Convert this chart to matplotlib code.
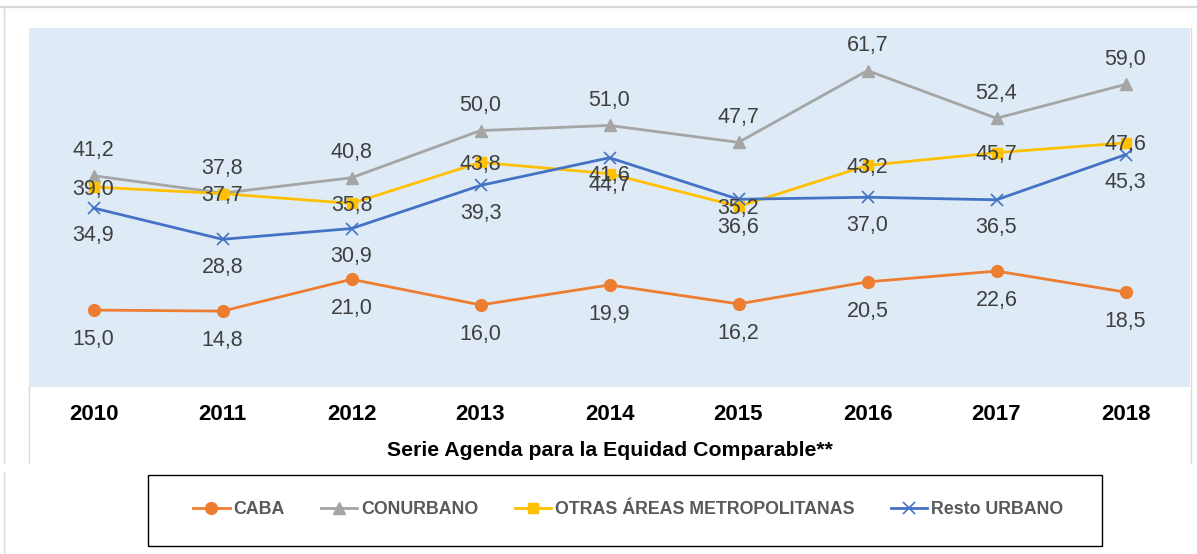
import matplotlib
matplotlib.use("Agg")
import matplotlib.pyplot as plt
from matplotlib.lines import Line2D
from matplotlib.patches import Rectangle

years = ["2010", "2011", "2012", "2013", "2014", "2015", "2016", "2017", "2018"]
caba = [15.0, 14.8, 21.0, 16.0, 19.9, 16.2, 20.5, 22.6, 18.5]
conurbano = [41.2, 37.8, 40.8, 50.0, 51.0, 47.7, 61.7, 52.4, 59.0]
otras = [39.0, 37.7, 35.8, 43.8, 41.6, 35.2, 43.2, 45.7, 47.6]
resto = [34.9, 28.8, 30.9, 39.3, 44.7, 36.6, 37.0, 36.5, 45.3]
series_names = ["CABA", "CONURBANO", "OTRAS ÁREAS METROPOLITANAS", "Resto URBANO"]
x_title = "Serie Agenda para la Equidad Comparable**"

W, H = 1197, 554
fig = plt.figure(figsize=(W / 100, H / 100), dpi=100)
plt.rcParams['font.family'] = ['Liberation Sans', 'DejaVu Sans']

def fx(px):
    return px / W

def fy(py):
    return 1 - py / H

# decorative frame lines
fig.add_artist(Line2D([0, 1], [fy(6.5), fy(6.5)], color="#D9D9D9", lw=1.6))
fig.add_artist(Line2D([fx(4), fx(4)], [fy(7), fy(463)], color="#D9D9D9", lw=1.0))
fig.add_artist(Line2D([fx(4), fx(4)], [fy(472), fy(554)], color="#D9D9D9", lw=1.0))
fig.add_artist(Line2D([fx(29), fx(29)], [fy(387), fy(463)], color="#D9D9D9", lw=1.0))
fig.add_artist(Line2D([fx(1191), fx(1191)], [fy(28), fy(463)], color="#D9D9D9", lw=1.0))

ax = fig.add_axes([fx(29), fy(387), fx(1190 - 29), (387 - 28) / H])
ax.set_facecolor("#DEEBF7")
for s in ax.spines.values():
    s.set_visible(False)

xs = list(range(len(years)))
colors = ["#ED7D31", "#A5A5A5", "#FFC000", "#4472C4"]
ax.plot(xs, caba, color=colors[0], lw=2.0, marker="o", ms=8.5, label=series_names[0], zorder=3)
ax.plot(xs, conurbano, color=colors[1], lw=2.0, marker="^", ms=8.5, label=series_names[1], zorder=3)
ax.plot(xs, otras, color=colors[2], lw=2.0, marker="s", ms=6.5, label=series_names[2], zorder=3)
ax.plot(xs, resto, color=colors[3], lw=2.0, marker="x", ms=8.5, mew=1.2, label=series_names[3], zorder=3)

ax.set_xlim(-0.5, len(years) - 0.5)
ax.set_ylim(0, 70)
ax.set_yticks([])
ax.set_xticks(xs)
ax.set_xticklabels(years, fontsize=16, fontweight="bold", color="black")
ax.tick_params(axis="x", length=0, pad=12)

lab_kw = dict(textcoords="offset points", ha="center", va="center",
              fontsize=15.5, color="#404040", zorder=5)
for xi, v in zip(xs, caba):
    ax.annotate(f"{v:.1f}".replace(".", ","), (xi, v), xytext=(0, -21), **lab_kw)
for xi, v in zip(xs, conurbano):
    ax.annotate(f"{v:.1f}".replace(".", ","), (xi, v), xytext=(0, 18), **lab_kw)
for xi, v in zip(xs, otras):
    ax.annotate(f"{v:.1f}".replace(".", ","), (xi, v), xytext=(0, -1.5), **lab_kw)
for xi, v in zip(xs, resto):
    ax.annotate(f"{v:.1f}".replace(".", ","), (xi, v), xytext=(0, -20), **lab_kw)

ax.text(0.5, (387 - 450) / (387 - 28), x_title, transform=ax.transAxes,
        ha="center", va="center", fontsize=15.3, fontweight="bold", color="black")

# legend box
fig.add_artist(Rectangle((fx(148), fy(546)), fx(1102 - 148), (546 - 475) / H,
                         fill=False, edgecolor="black", lw=1.0, transform=fig.transFigure))
handles, labels = ax.get_legend_handles_labels()
leg = fig.legend(handles, labels, loc="center", bbox_to_anchor=(fx(628), fy(510)),
                 ncol=4, frameon=False, prop=dict(family="Liberation Sans", weight="bold", size=12.8),
                 handlelength=2.05, handletextpad=0.2, columnspacing=2.05, borderpad=0)
for t in leg.get_texts():
    t.set_color("#595959")

fig.savefig("out.png", dpi=100)
